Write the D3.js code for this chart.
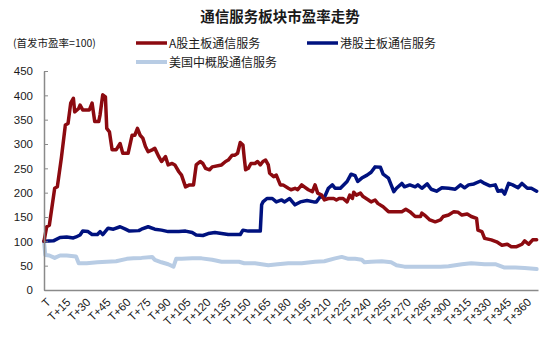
<!DOCTYPE html>
<html>
<head>
<meta charset="utf-8">
<script src="https://cdn.jsdelivr.net/npm/d3@7/dist/d3.min.js"></script>
<style>
  html, body { margin: 0; padding: 0; background: #fff; }
  svg { display: block; }
  text { font-family: "Liberation Sans", Arial, "Noto Sans CJK SC", sans-serif; fill: #1a1a1a; }
  .cjk { font-family: "Noto Sans CJK SC", "Liberation Sans", sans-serif; }
</style>
</head>
<body>
<svg id="chart" width="550" height="347"></svg>
<script>
// Trading days after listing (T+n) and index values (first-day P/E = 100)
const aDays = [0,2,4,8,10,13,16,18,20,22,23,26,27,29,34,36,38,41,42,44,46,47,49,51,54,57,59,63,66,68,70,72,74,76,78,81,83,86,88,91,93,96,98,101,103,106,109,112,114,117,119,121,124,126,133,136,138,141,143,145,147,149,150,151,153,155,158,160,162,164,166,168,169,172,174,177,179,183,185,188,190,193,195,198,201,203,205,208,210,213,217,219,221,224,227,229,231,232,234,237,239,243,245,248,250,254,258,263,268,271,274,278,282,283,285,289,293,297,299,303,307,310,313,317,320,324,325,328,330,335,339,343,347,350,354,358,360,363,366,369];
const aValues = [100,130,133,209,212,271,339,342,384,394,366,373,380,370,370,384,346,346,360,401,397,332,325,288,288,301,281,281,318,318,332,318,312,295,284,288,291,274,264,274,257,260,257,243,236,212,216,216,257,264,260,250,247,253,257,264,267,277,277,281,303,298,271,247,250,260,260,264,257,264,267,257,240,233,236,216,216,209,206,209,206,216,212,206,202,216,199,195,185,188,188,185,188,188,181,195,188,201,195,199,192,185,181,185,178,171,161,161,161,166,161,151,151,158,154,144,140,144,151,154,161,160,154,156,151,147,123,120,106,103,99,92,94,89,89,94,101,94,103,103];

const hkDays = [0,7,12,17,22,24,27,29,33,36,40,42,44,48,52,57,61,64,71,73,78,83,88,93,101,106,111,114,119,123,128,133,138,147,149,153,157,162,163,164,167,171,174,178,180,184,188,192,197,202,204,207,210,213,216,218,222,227,230,233,235,238,242,245,248,252,254,258,260,262,264,268,270,274,278,280,283,287,290,294,298,303,308,312,315,318,322,327,330,334,338,340,343,345,348,351,355,358,362,365,369];
const hkValues = [100,101,108,109,107,109,113,121,120,114,114,120,114,127,125,130,125,121,122,125,130,125,123,120,120,121,118,113,112,116,118,116,114,114,123,121,121,121,175,181,188,188,181,185,181,188,175,181,184,181,181,192,190,209,216,209,209,223,238,235,223,230,236,242,253,252,238,230,216,202,209,219,212,216,212,216,209,218,207,203,210,209,207,216,210,216,218,224,219,214,216,203,205,197,219,216,210,219,209,209,203];

const usDays = [0,1,4,8,12,17,24,26,32,40,47,54,62,67,73,81,83,88,93,97,99,103,111,118,126,133,141,146,150,158,168,175,183,193,203,210,218,223,228,233,238,240,245,253,260,264,270,280,290,297,303,313,320,330,338,345,353,360,369];
const usValues = [100,72,71,66,71,71,69,55,55,57,58,59,64,65,66,68,62,57,53,48,64,64,65,65,62,58,58,58,55,55,51,53,55,55,58,59,65,68,64,64,62,57,58,59,57,51,48,48,48,48,49,53,55,53,53,46,46,45,43];

const seriesNames = ["A股主板通信服务", "港股主板通信服务", "美国中概股通信服务"];
const seriesColors = ["#8c0a10", "#00127f", "#b8cce4"];

const xTickDays = d3.range(0, 361, 15);
const xTickLabels = xTickDays.map(d => d === 0 ? "T" : "T+" + d);
const yTicks = [0, 50, 100, 150, 200, 250, 300, 350, 400, 450];

const svg = d3.select("#chart");
const x = d3.scaleLinear().domain([0, 370]).range([44, 538]);
const y = d3.scaleLinear().domain([0, 450]).range([290, 71]);

// title and note
svg.append("text").attr("class", "cjk")
  .attr("x", 280).attr("y", 22).attr("text-anchor", "middle")
  .style("font-size", "14.5px").style("font-weight", "bold")
  .text("通信服务板块市盈率走势");
svg.append("text").attr("class", "cjk")
  .attr("x", 13).attr("y", 47)
  .style("font-size", "10.5px")
  .text("(首发市盈率=100)");

// series lines
const series = [
  { days: aDays, values: aValues, width: 3.5 },
  { days: hkDays, values: hkValues, width: 3.5 },
  { days: usDays, values: usValues, width: 4 }
];
const line = d3.line().x(d => x(d[0])).y(d => y(d[1]));
[2, 1, 0].forEach(i => {
  const s = series[i];
  svg.append("path")
    .datum(s.days.map((d, k) => [d, s.values[k]]))
    .attr("fill", "none")
    .attr("stroke", seriesColors[i])
    .attr("stroke-width", s.width)
    .attr("stroke-linejoin", "round")
    .attr("stroke-linecap", "round")
    .attr("d", line);
});

// y axis
const yAxis = svg.append("g").attr("transform", "translate(44,0)")
  .call(d3.axisLeft(y).tickValues(yTicks).tickSizeInner(-4).tickSizeOuter(0).tickPadding(11));
yAxis.select(".domain").attr("stroke", "#8a8a8a").attr("stroke-width", 1.5);
yAxis.selectAll(".tick line").attr("stroke", "#8a8a8a").attr("stroke-width", 1);
yAxis.selectAll(".tick text").style("font-size", "11.5px").style("font-family", "Liberation Sans, Arial, sans-serif").attr("fill", "#1a1a1a");

// x axis
const xAxis = svg.append("g").attr("transform", "translate(0,290)")
  .call(d3.axisBottom(x).tickValues(xTickDays).tickSize(0).tickFormat((d, i) => xTickLabels[i]));
xAxis.select(".domain").attr("stroke", "#8a8a8a").attr("stroke-width", 1.5);
xAxis.selectAll(".tick text")
  .attr("x", 0).attr("y", 0).attr("dy", "0.35em")
  .attr("text-anchor", "end")
  .attr("transform", "translate(4,10) rotate(-45)")
  .style("font-size", "11.5px").style("font-family", "Liberation Sans, Arial, sans-serif").attr("fill", "#1a1a1a");

// legend
const legendItems = [
  { x: 136, y: 43 },
  { x: 307, y: 43 },
  { x: 136, y: 62 }
];
legendItems.forEach((p, i) => {
  svg.append("line")
    .attr("x1", p.x).attr("x2", p.x + 31).attr("y1", p.y).attr("y2", p.y)
    .attr("stroke", seriesColors[i]).attr("stroke-width", i === 2 ? 4 : 3.5);
  svg.append("text").attr("class", "cjk")
    .attr("x", p.x + 33).attr("y", p.y + 4.5)
    .style("font-size", "12px")
    .text(seriesNames[i]);
});
</script>
</body>
</html>
